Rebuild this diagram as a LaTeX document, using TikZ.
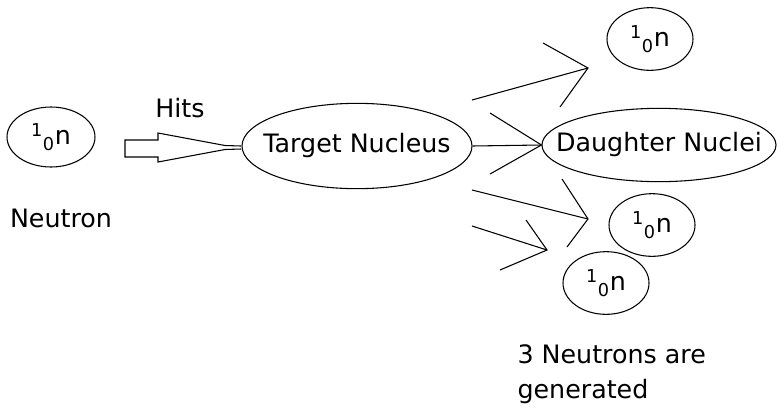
\documentclass[tikz,border=0pt]{standalone}
\usepackage{fontspec}
\setmainfont{DejaVu Sans}
\usetikzlibrary{shapes.geometric}

\newcommand{\neutronsym}{\makebox[0pt]{\textsuperscript{1}\textsubscript{0}n}}

\tikzset{
  particle/.style={draw, ellipse, inner sep=0pt, minimum width=64.5pt, minimum height=47pt},
  nucleus/.style={draw, ellipse, inner sep=0pt},
  caption/.style={inner sep=0pt}
}

\begin{document}
\begin{tikzpicture}[x=0.75pt, y=-0.75pt, line width=0.8pt, font=\fontsize{19}{26}\selectfont]
        \useasboundingbox (0,0) rectangle (778,408);

        % Incoming neutron
        \node[particle, minimum width=66pt, minimum height=45pt] (n0) at (51,137) {\neutronsym};
        \node[caption] (neutronlbl) at (61,218) {Neutron};

        % Nuclei
        \node[nucleus, minimum width=172.5pt, minimum height=64pt] (target) at (357,146) {\makebox[0pt]{Target Nucleus}};
        \node[nucleus, minimum width=175.5pt, minimum height=55pt] (daughter) at (659,145) {\makebox[0pt]{Daughter Nuclei}};

        % Released neutrons
        \node[particle] (n1) at (650,39) {\neutronsym};
        \node[particle] (n2) at (652,225) {\neutronsym};
        \node[particle] (n3) at (606,283) {\neutronsym};

        % Hollow arrow
        \draw (241,146) -- (225,145.5) -- (158,133) -- (158,140) -- (125,140) -- (125,157)
              -- (158,157) -- (158,162) -- (225,149.5) -- (241,149);
        \node[caption] (hits) at (180,108) {Hits};

        % Split into daughter nuclei
        \draw (target.east) -- (daughter.west);
        \draw (490,113) -- (daughter.west) -- (490,174);

        % Neutrons flying off
        \coordinate (s1) at (472,100);
        \coordinate (t1) at (588,68);
        \draw (s1) -- (t1);
        \draw (543,43) -- (t1) -- (560,107);

        \coordinate (s2) at (472,190);
        \coordinate (t2) at (588,219);
        \draw (s2) -- (t2);
        \draw (562,179) -- (t2) -- (567,247);

        \coordinate (s3) at (472,226);
        \coordinate (t3) at (547,250);
        \draw (s3) -- (t3);
        \draw (526,220) -- (t3) -- (500,270);

        \node[caption, align=left, anchor=base west] (count) at (517,398) {3 Neutrons are\\generated};

\end{tikzpicture}
\end{document}
